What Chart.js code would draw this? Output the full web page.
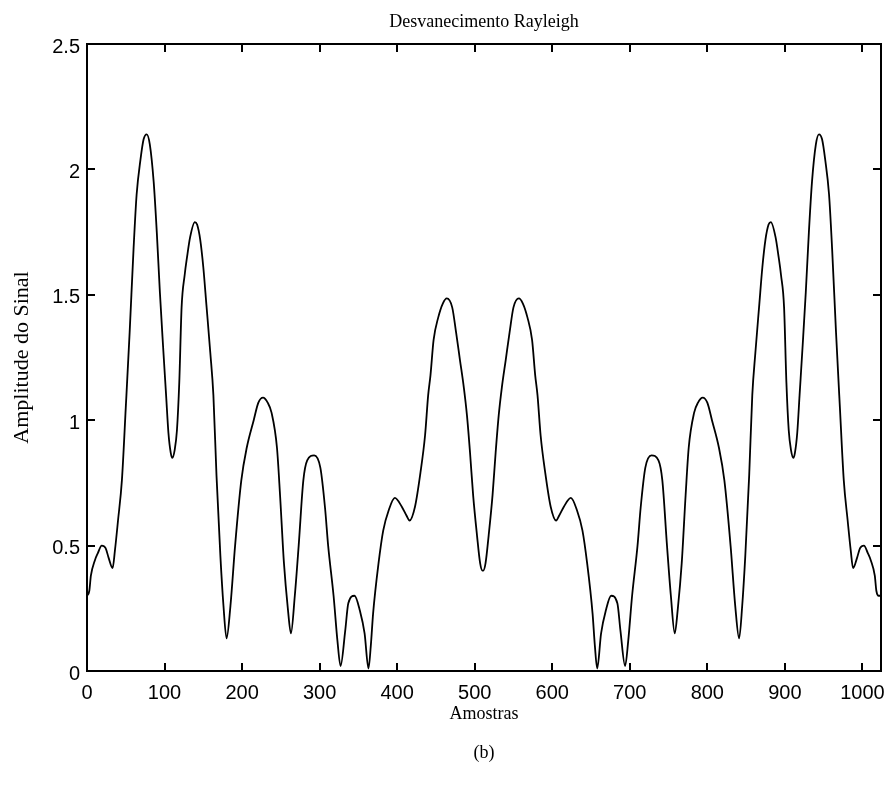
<!DOCTYPE html>
<html lang="pt">
<head>
<meta charset="utf-8">
<title>Desvanecimento Rayleigh</title>
<script src="https://cdn.jsdelivr.net/npm/chart.js@4.4.1/dist/chart.umd.min.js"></script>
<style>
  html, body { margin: 0; padding: 0; background: #fff; }
  #fading { display: block; }
</style>
</head>
<body>
<canvas id="fading" width="888" height="787"></canvas>
<script>
// sample index along the record (Amostras)
const sampleIdx = [
  0, 3, 5, 10, 14, 19, 24, 28, 33, 36, 40, 45, 50, 55, 60, 64, 69, 73, 77, 81,
  86, 90, 94, 98, 102, 105, 108, 110, 113, 116, 119, 122, 126, 129, 133, 139, 142, 146, 150, 154,
  159, 163, 167, 172, 176, 180, 185, 191, 199, 206, 215, 221, 227, 233, 238, 245, 249, 254, 259, 263,
  268, 273, 279, 284, 293, 301, 307, 311, 318, 323, 327, 333, 337, 345, 352, 358, 363, 366, 369, 376,
  382, 389, 397, 406, 412, 416, 423, 430, 436, 440, 443, 447, 453, 459, 464, 471, 476, 481, 486, 490,
  494, 498, 503, 507, 510,
  511, 514, 518, 523, 527, 531, 535, 540, 545, 550, 557, 562, 568, 574, 578, 581, 585, 591, 598, 605,
  609, 615, 624, 632, 639, 645, 652, 655, 658, 663, 669, 676, 684, 688, 694, 698, 703, 710, 714, 720,
  728, 737, 742, 748, 753, 758, 762, 767, 772, 776, 783, 788, 794, 800, 806, 815, 822, 830, 836, 841,
  845, 849, 854, 858, 862, 867, 871, 875, 879, 882, 888, 892, 895, 899, 902, 905, 908, 911, 913, 916,
  919, 923, 927, 931, 935, 940, 944, 948, 952, 957, 961, 966, 971, 976, 981, 985, 988, 993, 997, 1002,
  1007, 1011, 1016, 1018, 1021, 1023
];

// envelope amplitude at each sample
const amplitude = [
  0.30, 0.32, 0.38, 0.44, 0.47, 0.50, 0.49, 0.45, 0.41, 0.48, 0.60, 0.76, 1.05, 1.35, 1.68, 1.90, 2.04, 2.12, 2.14, 2.10,
  1.95, 1.75, 1.51, 1.30, 1.10, 0.95, 0.87, 0.85, 0.88, 0.96, 1.15, 1.45, 1.58, 1.65, 1.73, 1.79, 1.78, 1.72, 1.61, 1.46,
  1.27, 1.10, 0.78, 0.46, 0.26, 0.13, 0.26, 0.50, 0.76, 0.89, 1.00, 1.07, 1.09, 1.07, 1.03, 0.89, 0.70, 0.43, 0.25, 0.15,
  0.30, 0.50, 0.76, 0.84, 0.86, 0.81, 0.65, 0.50, 0.30, 0.12, 0.02, 0.16, 0.27, 0.30, 0.24, 0.15, 0.01, 0.10, 0.23, 0.43,
  0.56, 0.64, 0.69, 0.655, 0.62, 0.60, 0.655, 0.79, 0.94, 1.10, 1.18, 1.32, 1.41, 1.466, 1.486, 1.45, 1.35, 1.24, 1.13, 1.02,
  0.87, 0.70, 0.54, 0.43, 0.40,
  0.40, 0.43, 0.54, 0.70, 0.87, 1.02, 1.13, 1.24, 1.35, 1.45, 1.486, 1.466, 1.41, 1.32, 1.18, 1.10, 0.94, 0.79, 0.655, 0.60,
  0.62, 0.655, 0.69, 0.64, 0.56, 0.43, 0.23, 0.10, 0.01, 0.15, 0.24, 0.30, 0.27, 0.16, 0.02, 0.12, 0.30, 0.50, 0.65, 0.81,
  0.86, 0.84, 0.76, 0.50, 0.30, 0.15, 0.25, 0.43, 0.70, 0.89, 1.03, 1.07, 1.09, 1.07, 1.00, 0.89, 0.76, 0.50, 0.26, 0.13,
  0.26, 0.46, 0.78, 1.10, 1.27, 1.46, 1.61, 1.72, 1.78, 1.79, 1.73, 1.65, 1.58, 1.45, 1.15, 0.96, 0.88, 0.85, 0.87, 0.95,
  1.10, 1.30, 1.51, 1.75, 1.95, 2.10, 2.14, 2.12, 2.04, 1.90, 1.68, 1.35, 1.05, 0.76, 0.60, 0.48, 0.41, 0.45, 0.49, 0.50,
  0.47, 0.44, 0.38, 0.32, 0.30, 0.30
];

const xTicks = [0, 100, 200, 300, 400, 500, 600, 700, 800, 900, 1000];
const yTicks = [0, 0.5, 1, 1.5, 2, 2.5];

const titleText = "Desvanecimento Rayleigh";
const xLabel = "Amostras";
const yLabel = "Amplitude do Sinal";
const caption = "(b)";

const SERIF = '"Liberation Serif", "Times New Roman", serif';
const SANS = '"Liberation Sans", Arial, sans-serif';

// box around the axes with inward ticks on all four sides, plus the text around it
const matlabFrame = {
  id: "matlabFrame",
  afterDraw(chart) {
    const { ctx, chartArea: a, scales } = chart;
    const tick = 8;
    ctx.save();
    ctx.strokeStyle = "#000";
    ctx.lineWidth = 2;
    ctx.strokeRect(a.left, a.top, a.right - a.left, a.bottom - a.top);

    ctx.beginPath();
    xTicks.forEach((v) => {
      const px = Math.round(scales.x.getPixelForValue(v));
      ctx.moveTo(px, a.bottom); ctx.lineTo(px, a.bottom - tick);
      ctx.moveTo(px, a.top); ctx.lineTo(px, a.top + tick);
    });
    yTicks.forEach((v) => {
      const py = Math.round(scales.y.getPixelForValue(v));
      ctx.moveTo(a.left, py); ctx.lineTo(a.left + tick, py);
      ctx.moveTo(a.right, py); ctx.lineTo(a.right - tick, py);
    });
    ctx.stroke();

    const cx = (a.left + a.right) / 2;
    ctx.fillStyle = "#000";
    ctx.textAlign = "center";
    ctx.textBaseline = "alphabetic";
    ctx.font = "18px " + SERIF;
    ctx.fillText(titleText, cx, 27);
    ctx.fillText(xLabel, cx, 719);
    ctx.fillText(caption, cx, 758);

    ctx.font = "22px " + SERIF;
    ctx.translate(22, (a.top + a.bottom) / 2);
    ctx.rotate(-Math.PI / 2);
    ctx.textBaseline = "middle";
    ctx.fillText(yLabel, 0, 0);
    ctx.restore();
  }
};

const ctx = document.getElementById("fading").getContext("2d");

new Chart(ctx, {
  type: "line",
  data: {
    datasets: [{
      data: sampleIdx.map((n, i) => ({ x: n, y: amplitude[i] })),
      borderColor: "#000",
      borderWidth: 1.8,
      pointRadius: 0,
      fill: false,
      cubicInterpolationMode: "monotone"
    }]
  },
  options: {
    responsive: false,
    animation: false,
    layout: { padding: { top: 44, right: 7, bottom: 0, left: 0 } },
    plugins: { legend: { display: false }, title: { display: false }, tooltip: { enabled: false } },
    scales: {
      x: {
        type: "linear",
        min: 0,
        max: 1024,
        afterBuildTicks: (s) => { s.ticks = xTicks.map((v) => ({ value: v })); },
        afterFit: (s) => { s.height = 116; s.paddingLeft = 0; s.paddingRight = 0; },
        grid: { display: false, drawTicks: false },
        border: { display: false },
        ticks: {
          color: "#000", font: { family: SANS, size: 20 }, padding: 10, maxRotation: 0, autoSkip: false,
          callback: (v) => String(v)
        }
      },
      y: {
        type: "linear",
        min: 0,
        max: 2.5,
        afterBuildTicks: (s) => { s.ticks = yTicks.map((v) => ({ value: v })); },
        afterFit: (s) => { s.width = 87; s.paddingTop = 0; s.paddingBottom = 0; },
        grid: { display: false, drawTicks: false },
        border: { display: false },
        ticks: {
          color: "#000", font: { family: SANS, size: 20 }, padding: 7, labelOffset: 3, autoSkip: false,
          callback: (v) => String(v)
        }
      }
    }
  },
  plugins: [matlabFrame]
});
</script>
</body>
</html>
